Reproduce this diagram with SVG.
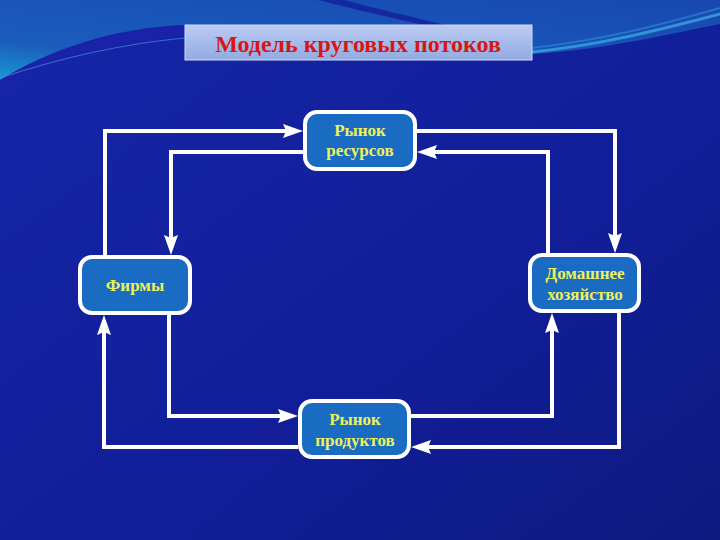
<svg xmlns="http://www.w3.org/2000/svg" width="720" height="540" viewBox="0 0 720 540">
<defs>
<linearGradient id="bg" x1="0" y1="0" x2="1" y2="1">
<stop offset="0" stop-color="#1626a8"/>
<stop offset="0.6" stop-color="#111e98"/>
<stop offset="1" stop-color="#0d1a80"/>
</linearGradient>
<linearGradient id="sky" x1="0" y1="1" x2="1" y2="0">
<stop offset="0" stop-color="#1c96d4"/>
<stop offset="0.25" stop-color="#1a5cbc"/>
<stop offset="1" stop-color="#1848b0"/>
</linearGradient>
<linearGradient id="title" x1="0" y1="0" x2="0" y2="1">
<stop offset="0" stop-color="#bccbf2"/>
<stop offset="0.5" stop-color="#a6bbea"/>
<stop offset="1" stop-color="#93abe2"/>
</linearGradient>
<marker id="ah" viewBox="0 0 20 14" refX="10" refY="7" markerWidth="20" markerHeight="14" markerUnits="userSpaceOnUse" orient="auto">
<path d="M0,0 L20,7 L0,14 L3,7 Z" fill="#ffffff"/>
</marker>
<style>
.node rect{fill:#1a6bc2;stroke:#ffffff;stroke-width:4}
.node text{font-family:"Liberation Serif","Times New Roman",serif;font-weight:bold;font-size:17px;fill:#eef25a;text-anchor:middle}
.conn path{fill:none;stroke:#ffffff;stroke-width:4;stroke-linejoin:miter;marker-end:url(#ah)}
</style>
</defs>
<rect x="0" y="0" width="720" height="540" fill="url(#bg)"/>
<path d="M0,0 H720 V24 C660,36 600,50 532,54 L185,25 C110,28 50,50 0,80 Z" fill="url(#sky)"/>
<path d="M0,80 C50,50 110,30 185,26 L185,36 C120,40 60,55 0,84 Z" fill="#1a22a8"/>
<path d="M0,78 C60,58 120,44 185,38" fill="none" stroke="#4a8ae0" stroke-width="1.2" opacity="0.7"/>
<path d="M532,52 C600,45 660,30 720,14" fill="none" stroke="#3cb0e4" stroke-width="3" opacity="0.7"/>
<path d="M532,48 C600,40 650,28 720,8" fill="none" stroke="#2a90d8" stroke-width="2" opacity="0.6"/>
<path d="M318,0 C350,8 390,18 430,26 L450,26 C400,14 365,6 345,0 Z" fill="#1628a0"/>
<g id="title-box">
<rect x="185" y="25" width="347" height="35" fill="url(#title)" stroke="#d0dcf8" stroke-width="1"/>
<text x="358" y="52" font-family="'Liberation Serif','Times New Roman',serif" font-weight="bold" font-size="24" fill="#d41818" text-anchor="middle">Модель круговых потоков</text>
</g>
<g id="connectors" class="conn">
<path d="M105,255 V131 H293"/>
<path d="M303,152 H171 V245"/>
<path d="M417,131 H615 V243"/>
<path d="M548,253 V152 H427"/>
<path d="M169,315 V416 H288"/>
<path d="M298,447 H104 V325"/>
<path d="M411,416 H552 V323"/>
<path d="M619,313 V447 H421"/>
</g>
<g id="resource-market" class="node">
<rect x="305" y="112" width="110" height="57" rx="12"/>
<text x="360" y="136">Рынок</text>
<text x="360" y="156">ресурсов</text>
</g>
<g id="firms" class="node">
<rect x="80" y="257" width="110" height="56" rx="12"/>
<text x="135" y="291">Фирмы</text>
</g>
<g id="household" class="node">
<rect x="530" y="255" width="109" height="56" rx="12"/>
<text x="585" y="279">Домашнее</text>
<text x="585" y="300">хозяйство</text>
</g>
<g id="product-market" class="node">
<rect x="300" y="401" width="109" height="56" rx="12"/>
<text x="355" y="425">Рынок</text>
<text x="355" y="446">продуктов</text>
</g>
</svg>
